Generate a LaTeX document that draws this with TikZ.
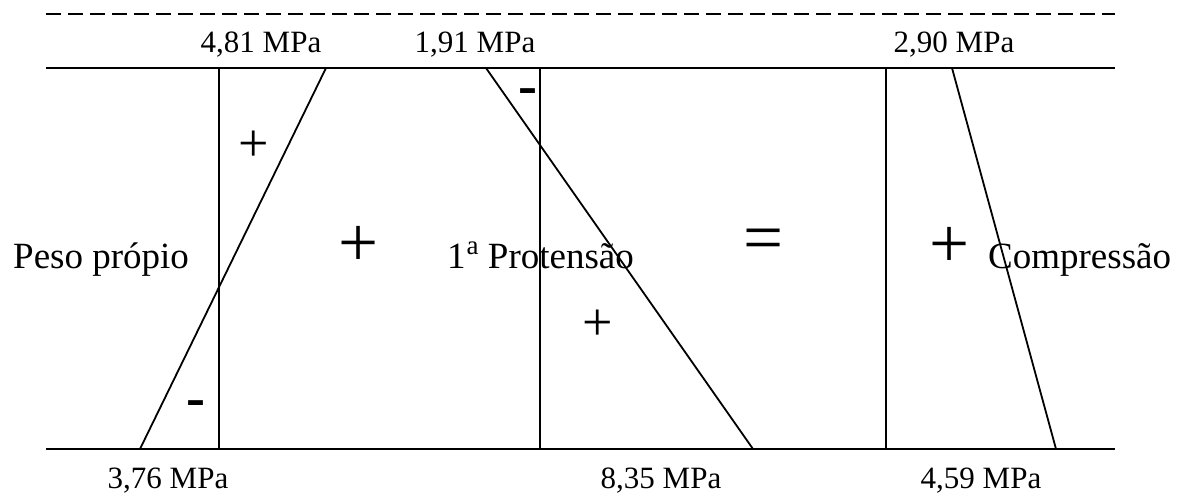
\documentclass[tikz,border=0pt]{standalone}
\usepackage{fontspec}
\setmainfont{Liberation Serif}
\newcommand{\mpafont}{\fontsize{31}{37}\selectfont}
\newcommand{\labfont}{\fontsize{37}{44}\selectfont}
\newcommand{\bigsym}{\fontsize{71}{80}\selectfont}
\newcommand{\smallsym}{\fontsize{54}{60}\selectfont}
\newcommand{\minusfont}{\fontsize{57}{60}\selectfont}
\tikzset{
  base/.style={line width=2pt},
  diag/.style={line width=1.8pt},
  mpa/.style={inner sep=0pt, anchor=base, font=\mpafont},
  lab/.style={inner sep=0pt, anchor=base west, font=\labfont},
  bsym/.style={inner sep=0pt, font=\bigsym},
  ssym/.style={inner sep=0pt, font=\smallsym},
  msym/.style={inner sep=0pt, font=\minusfont},
}
\begin{document}
\begin{tikzpicture}[x=1pt,y=-1pt]
\useasboundingbox (0,0) rectangle (1181,494);
% key points
\coordinate (dl) at (46,14);  \coordinate (dr) at (1115,14);
\coordinate (tl) at (46,68);  \coordinate (tr) at (1115,68);
\coordinate (bl) at (46,449); \coordinate (br) at (1115,449);
\coordinate (p1t) at (219,68); \coordinate (p1b) at (219,449);
\coordinate (p1dt) at (326,68); \coordinate (p1db) at (140,449);
\coordinate (p2t) at (540,68); \coordinate (p2b) at (540,449);
\coordinate (p2dt) at (486,68); \coordinate (p2db) at (753,449);
\coordinate (c1) at (886,68); \coordinate (c2) at (952,68);
\coordinate (c3) at (1056,449); \coordinate (c4) at (886,449);
% reference lines
\draw[line width=2pt, dash pattern=on 15pt off 7pt] (dl) -- (dr);
\draw[base] (tl) -- (tr);
\draw[base] (bl) -- (br);
% peso proprio
\draw[diag] (p1t) -- (p1b);
\draw[diag] (p1dt) -- (p1db);
% protensao
\draw[diag] (p2t) -- (p2b);
\draw[diag] (p2dt) -- (p2db);
% compressao
\draw[diag, line join=miter] (c1) -- (c2) -- (c3) -- (c4) -- cycle;
\draw[line width=2.6pt] (c1) -- (c2);
\draw[line width=2.6pt] (c4) -- (c3);
% labels
\node[mpa] (m1) at (261,53) {4,81 MPa};
\node[mpa] (m2) at (475,53) {1,91 MPa};
\node[mpa] (m3) at (954,53) {2,90 MPa};
\node[mpa] (m4) at (168,488) {3,76 MPa};
\node[mpa] (m5) at (661,488) {8,35 MPa};
\node[mpa] (m6) at (981,488) {4,59 MPa};
\node[lab] (l1) at (13,269) {Peso própio};
\node[lab] (l2) at (447,269) {1\hspace{1pt}\raisebox{14pt}{\fontsize{27}{27}\selectfont a} Protensão};
\node[lab] (l3) at (988,269) {Compressão};
% signs
\node[bsym] (s1) at (359,246) {+};
\node[bsym] (s2) at (764,245) {=};
\node[bsym] (s3) at (950,247) {+};
\node[ssym] (s4) at (254,146) {+};
\node[ssym] (s5) at (598,325) {+};
\node[msym] (s6) at (528,97) {\textbf{-}};
\node[msym] (s7) at (196,409) {\textbf{-}};
\end{tikzpicture}
\end{document}
